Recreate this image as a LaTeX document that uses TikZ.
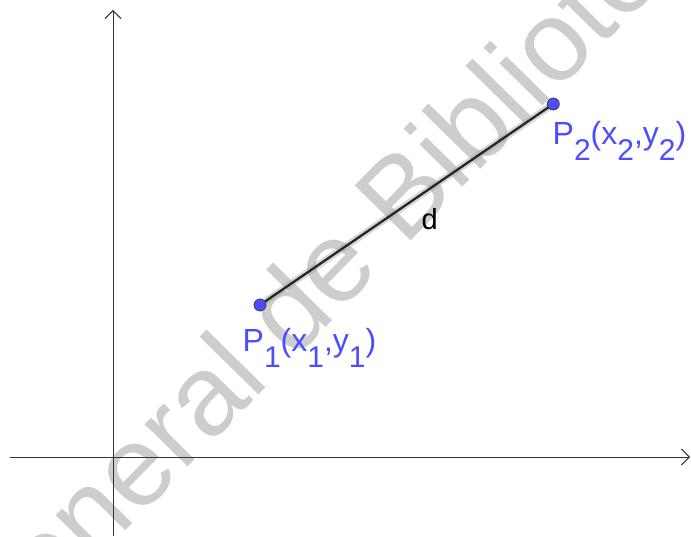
\documentclass[tikz,border=0pt]{standalone}
\usepackage{fontspec}
\setmainfont{Liberation Sans}
\usetikzlibrary{arrows.meta}
\definecolor{gblue}{HTML}{4D4DFF}
\definecolor{gline}{HTML}{262626}
\definecolor{gwater}{HTML}{CDCDCD}
\newcommand{\lo}[1]{\raisebox{-0.5em}{\fontsize{30}{30}\selectfont #1}}
\tikzset{
  every picture/.style={x=1pt, y=1pt},
  axis/.style={draw=black!80, line width=0.9pt, -{Straight Barb[length=8pt, width=16pt, line width=0.9pt]}},
  pnt/.style={circle, draw=black!75, fill=gblue, line width=0.8pt, minimum size=12pt, inner sep=0pt},
  halo/.style={draw=black!35, line width=7pt, opacity=0.45},
  seg/.style={draw=gline, line width=2.3pt},
  lbl/.style={text=gblue, font=\fontsize{32}{38}\selectfont, inner sep=0pt, anchor=base west},
  wmark/.style={text=gwater, font=\fontsize{114}{114}\selectfont, inner sep=0pt, anchor=base west},
}
\begin{document}
\begin{tikzpicture}
  \useasboundingbox (0,0) rectangle (691,536);
  % watermark behind everything
  \begin{scope}
    \clip (0,0) rectangle (691,536);
    \node[wmark, rotate=45.5] (wm) at (-13,-136) {General de Bibliotecas};
  \end{scope}
  % axes
  \coordinate (xs) at (10,79);
  \coordinate (xe) at (690,79);
  \coordinate (ys) at (113,0);
  \coordinate (ye) at (113,526);
  \draw[axis] (xs) -- (xe);
  \draw[axis] (ys) -- (ye);
  % the segment, then the two points on top
  \coordinate (c1) at (260,231);
  \coordinate (c2) at (553.3,432);
  \draw[halo] (c1) -- (c2);
  \draw[seg] (c1) -- (c2);
  \node[pnt] (p1) at (c1) {};
  \node[pnt] (p2) at (c2) {};
  % labels
  \node[lbl] (l1) at (242.5,184) {P\lo{1}(x\lo{1},y\lo{1})};
  \node[lbl] (l2) at (552.5,391) {P\lo{2}(x\lo{2},y\lo{2})};
  \node[lbl, text=black, font=\fontsize{29}{34}\selectfont] (ld) at (421.5,306) {d};
\end{tikzpicture}
\end{document}
